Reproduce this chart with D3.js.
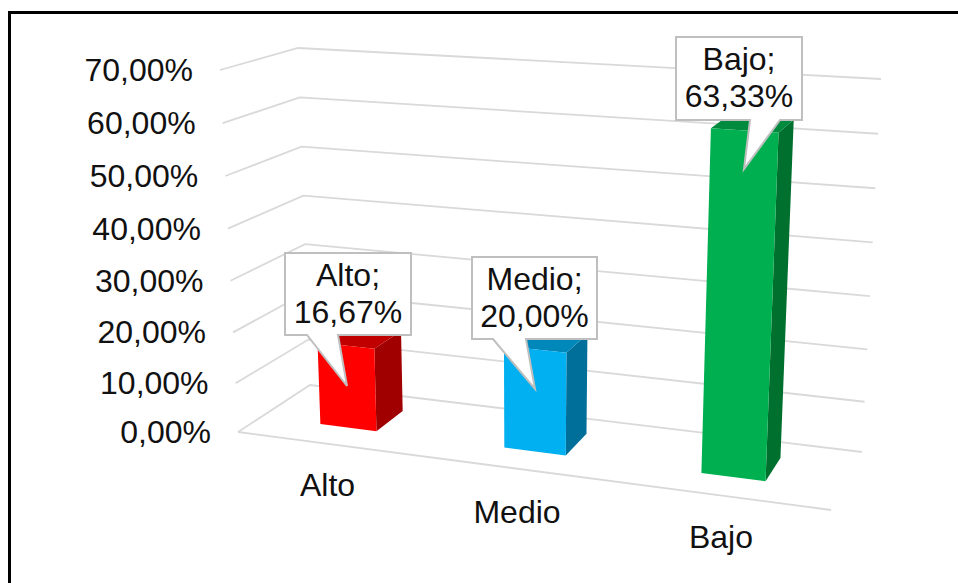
<!DOCTYPE html>
<html>
<head>
<meta charset="utf-8">
<script src="https://cdn.jsdelivr.net/npm/d3@7"></script>
<style>
  html,body{margin:0;padding:0;background:#fff;overflow:hidden}
  text{font-family:"Liberation Sans",Arial,sans-serif;fill:#111}
</style>
</head>
<body>
<div id="chart"></div>
<script>
const categories = ["Alto","Medio","Bajo"];
const values     = [16.67,20.00,63.33];
const valueLabels = ["16,67%","20,00%","63,33%"];
const ticks      = [0,10,20,30,40,50,60,70];
const tickLabels = ["0,00%","10,00%","20,00%","30,00%","40,00%","50,00%","60,00%","70,00%"];
const frontColors = ["#ff0000","#00b0f0","#00b050"];
const sideColors  = ["#a00000","#006f99","#00702f"];
const topColors   = ["#c00000","#0088bb","#008a3e"];

const width = 958, height = 583;

// esquinas de la caja 3D en pantalla (suelo y techo)
const corners = {
  fl0:[238,432], bl0:[310,385], br0:[862,452], fr0:[831,510],
  fl1:[220,70],  bl1:[298,48],  br1:[881,79],  fr1:[850,110]
};

const lerp = (a,b,t) => a+(b-a)*t;
const mix  = (p,q,t) => [lerp(p[0],q[0],t),lerp(p[1],q[1],t)];

// escalas: categoria a lo ancho, valor en altura, profundidad
const x = d3.scaleBand().domain(categories).range([0,1]).paddingInner(0.683).paddingOuter(0.37);
const uPersp = d3.scalePow().exponent(1.085).domain([0,1]).range([0,1]);
const y = d3.scalePow().exponent(1.03).domain([0,70]).range([0,1]);
const barDepth = [0.33,0.74];

// u: ancho 0-1, v: valor, z: fondo 0-1
function project(u,v,z){
  const h = y(v), a = uPersp(u);
  const fl = mix(corners.fl0,corners.fl1,h), fr = mix(corners.fr0,corners.fr1,h);
  const bl = mix(corners.bl0,corners.bl1,h), br = mix(corners.br0,corners.br1,h);
  return mix(mix(fl,fr,a),mix(bl,br,a),z);
}

const svg = d3.select("#chart").append("svg").attr("width",width).attr("height",height);
svg.append("rect").attr("width",width).attr("height",height).attr("fill","#fff");

// Marco (sin lado derecho)
svg.append("path").attr("d","M9.5,583V12.5H958")
  .attr("fill","none").attr("stroke","#000").attr("stroke-width",3);

const line = d3.line();

// Grid
svg.append("g").selectAll("path").data(ticks).join("path")
  .attr("d",v=>line([project(0,v,0),project(0,v,1),project(1,v,1)]))
  .attr("fill","none").attr("stroke","#d9d9d9").attr("stroke-width",1.8);
svg.append("path").attr("d",line([project(0,0,0),project(1,0,0)]))
  .attr("fill","none").attr("stroke","#d9d9d9").attr("stroke-width",1.8);

// Etiquetas eje Y
svg.append("g").selectAll("text").data(ticks).join("text")
  .attr("x",v=>project(0,v,0)[0]-27)
  .attr("y",v=>project(0,v,0)[1]+11)
  .attr("text-anchor","end")
  .attr("font-size",32)
  .text((v,i)=>tickLabels[i]);

// Barras
const bars = svg.append("g").selectAll("g").data(categories).join("g");
bars.each(function(c,i){
  const g = d3.select(this);
  const u0 = x(c), u1 = x(c)+x.bandwidth();
  const [z0,z1] = barDepth;
  const v = values[i];
  g.append("path").attr("fill",sideColors[i])
    .attr("d",line([project(u1,0,z0),project(u1,0,z1),project(u1,v,z1),project(u1,v,z0)])+"Z");
  g.append("path").attr("fill",topColors[i])
    .attr("d",line([project(u0,v,z0),project(u1,v,z0),project(u1,v,z1),project(u0,v,z1)])+"Z");
  g.append("path").attr("fill",frontColors[i])
    .attr("d",line([project(u0,0,z0),project(u1,0,z0),project(u1,v,z0),project(u0,v,z0)])+"Z");
});

// Etiquetas de categoria
const catPos = [[327.5,496],[517,523],[721,548]];
svg.append("g").selectAll("text").data(categories).join("text")
  .attr("x",(c,i)=>catPos[i][0]).attr("y",(c,i)=>catPos[i][1])
  .attr("text-anchor","middle")
  .attr("font-size",32)
  .text(c=>c);

// Globos
const boxes = [
  {x0:285,x1:411,y0:253,y1:335,b0:307,b1:338,tip:[347,386]},
  {x0:472,x1:597,y0:257,y1:339,b0:493,b1:526,tip:[535,389]},
  {x0:676,x1:802,y0:37,y1:120,b0:750,b1:780,tip:[744,169]}
];
const callouts = svg.append("g").selectAll("g").data(categories).join("g");
callouts.each(function(c,i){
  const b = boxes[i], g = d3.select(this);
  g.append("path")
    .attr("d",line([[b.x0,b.y0],[b.x1,b.y0],[b.x1,b.y1],[b.b1,b.y1],b.tip,[b.b0,b.y1],[b.x0,b.y1]])+"Z")
    .attr("fill","#fff").attr("stroke","#bfbfbf").attr("stroke-width",2);
  const t = g.append("text").attr("text-anchor","middle").attr("font-size",32);
  t.append("tspan").attr("x",(b.x0+b.x1)/2).attr("y",b.y0+33).text(c+";");
  t.append("tspan").attr("x",(b.x0+b.x1)/2).attr("y",b.y0+70).text(valueLabels[i]);
});
</script>
</body>
</html>
